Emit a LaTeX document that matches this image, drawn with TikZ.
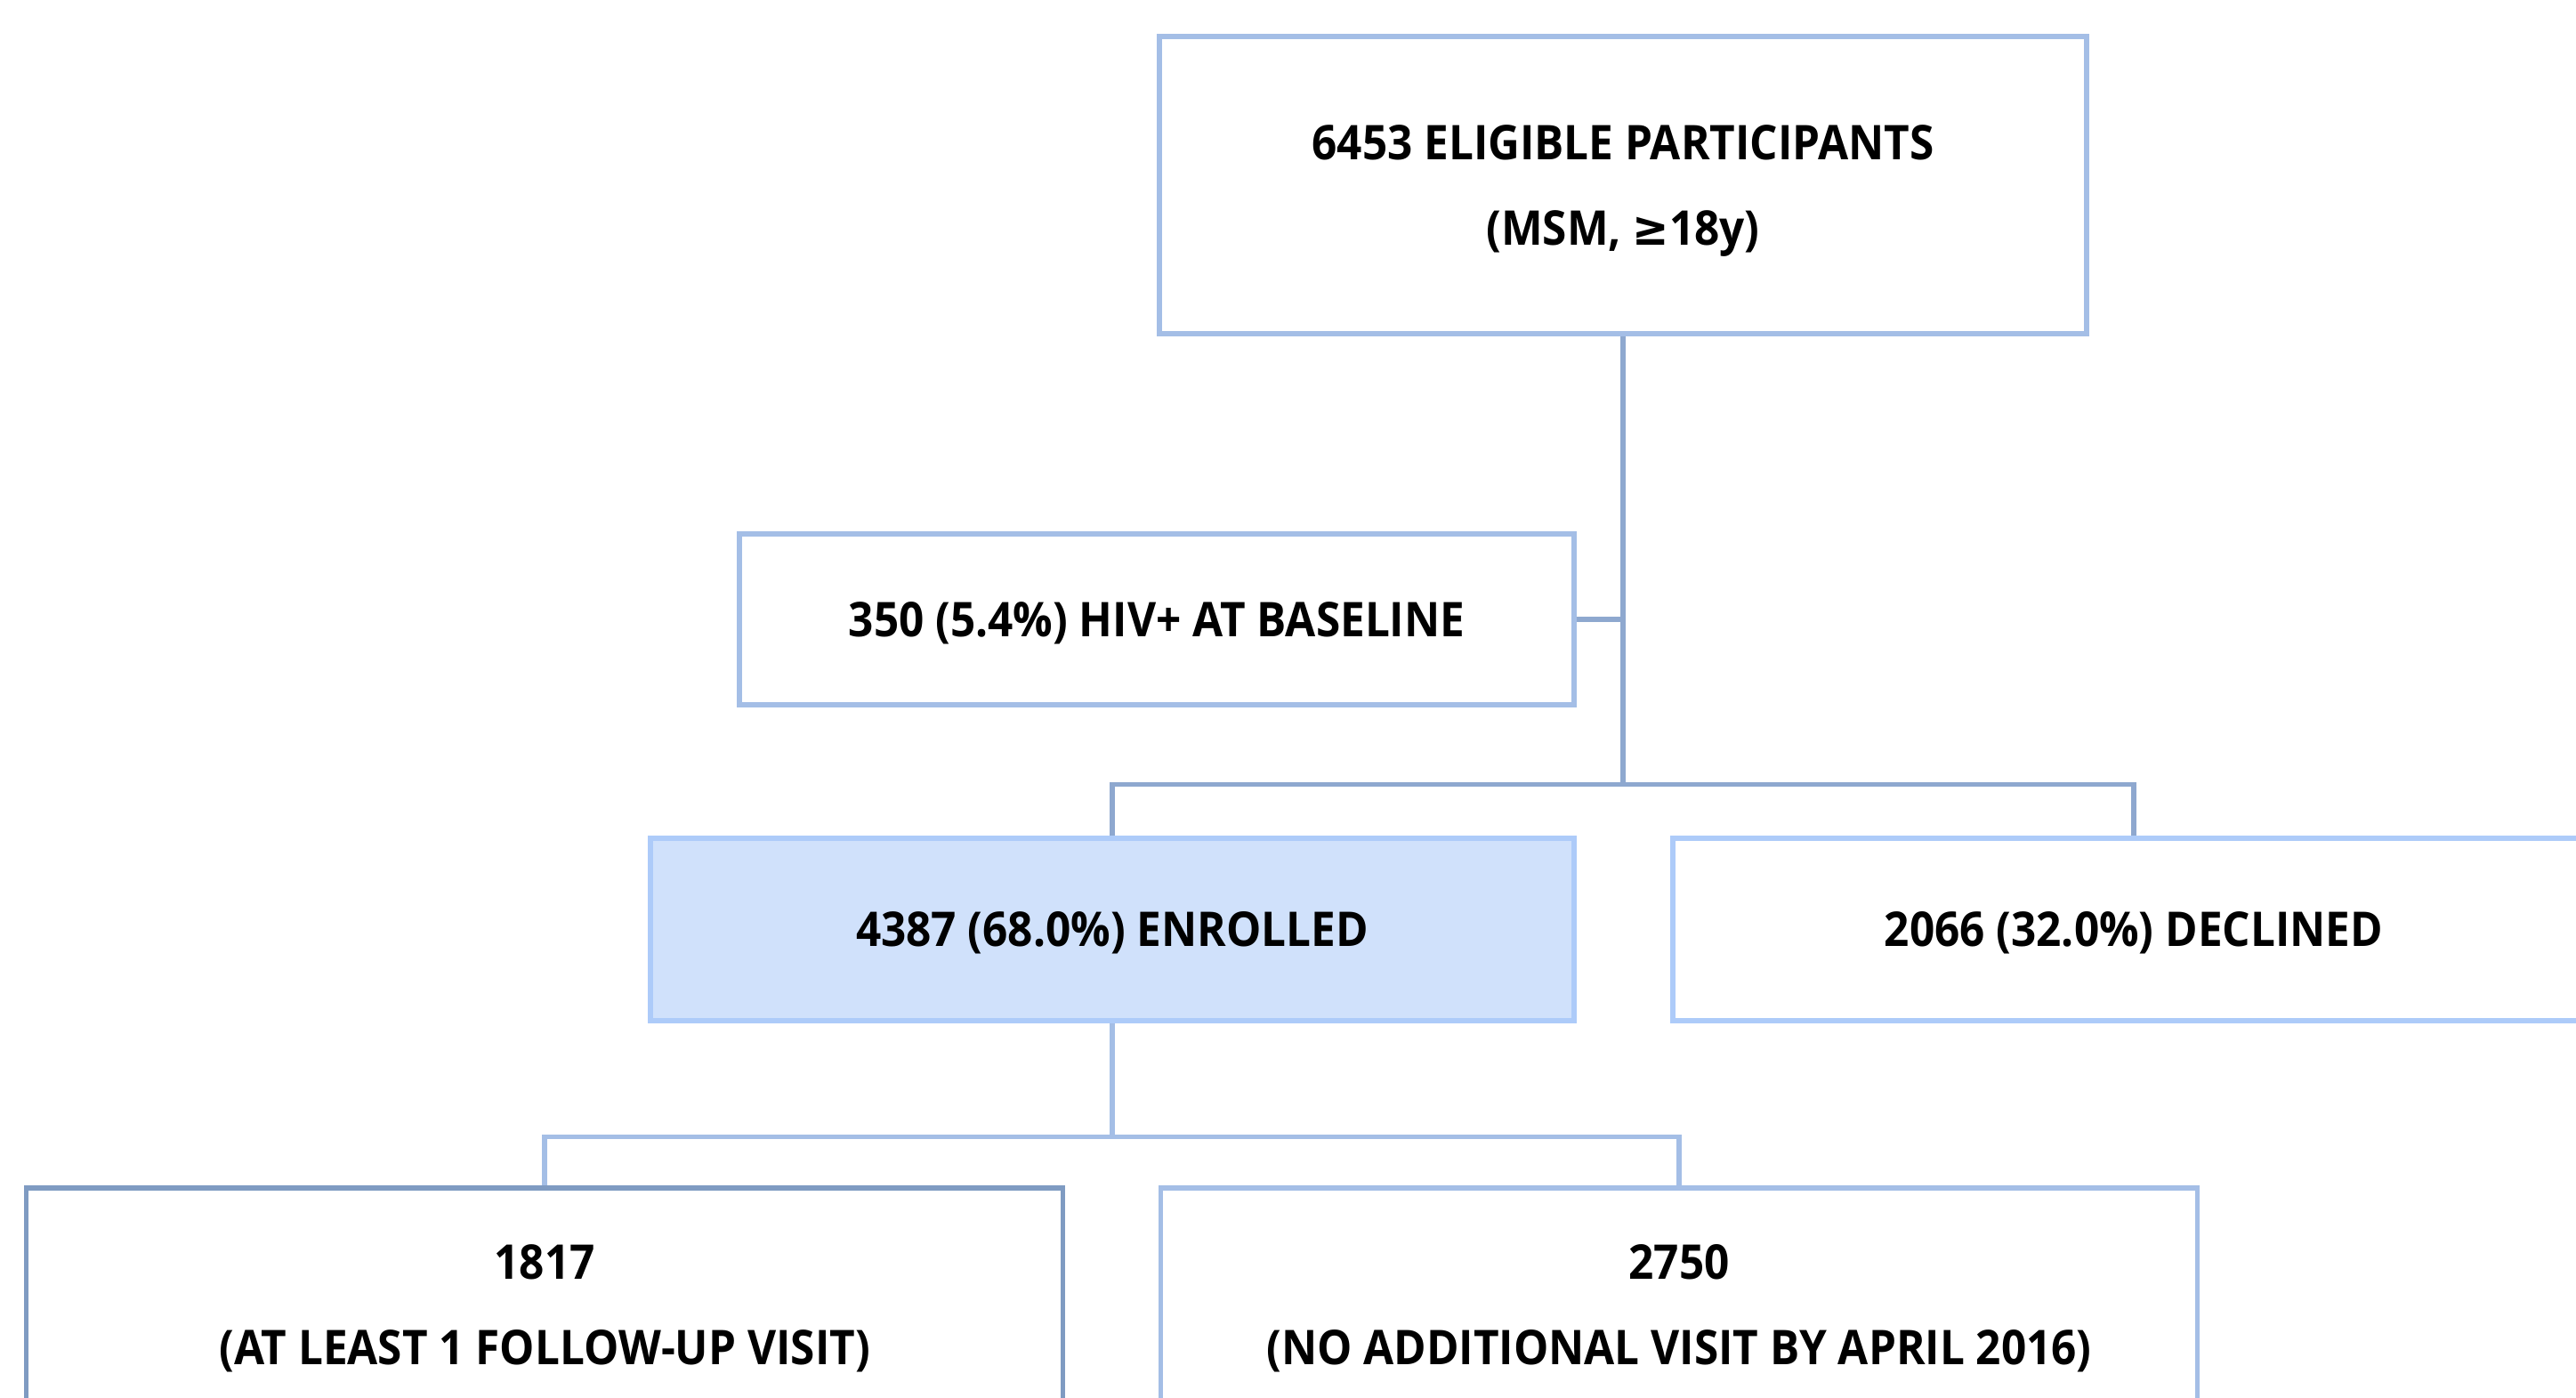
\documentclass[tikz,border=0pt]{standalone}
\usepackage{fontspec}
\setmainfont[FakeStretch=0.92]{Open Sans}
\newfontfamily\symfont[FakeStretch=0.92]{DejaVu Sans}
\usetikzlibrary{positioning,calc}

\definecolor{edgeblue}{HTML}{A4BEE6}
\definecolor{trunkblue}{HTML}{8EA8CF}
\definecolor{enrblue}{HTML}{ADCBF9}
\definecolor{enrfill}{HTML}{D0E1FB}
\definecolor{darkedge}{HTML}{7F9BC2}

\begin{document}
\begin{tikzpicture}[box/.style={
                rectangle, draw=edgeblue, line width=1.5pt, fill=white,
                align=center, inner sep=0pt, text depth=0pt,
                font=\bfseries\fontsize{15.3}{27.3}\selectfont},
            trunk/.style={draw=trunkblue, line width=1.5pt},
            branch/.style={draw=edgeblue, line width=1.5pt}]

            \useasboundingbox (0,0) rectangle (28.95,-15.71);
            \clip (0,0) rectangle (28.95,-15.71);

            \node [box,minimum width=10.42cm,minimum height=3.34cm] (ep) at (18.24,-2.08)
                {6453 ELIGIBLE PARTICIPANTS\\(MSM, {\symfont\bfseries ≥}18y)};
            \node [box,minimum width=9.38cm,minimum height=1.92cm] (hiv) at (13.00,-6.96)
                {350 (5.4\%) HIV+ AT BASELINE};
            \node [box,draw=enrblue,fill=enrfill,minimum width=10.38cm,minimum height=2.05cm] (enr) at (12.50,-10.445)
                {4387 (68.0\%) ENROLLED};
            \node [box,draw=enrblue,minimum width=10.36cm,minimum height=2.05cm] (dec) at (23.98,-10.445)
                {2066 (32.0\%) DECLINED};
            \node [box,draw=darkedge,minimum width=11.65cm,minimum height=2.62cm] (fu) at (6.12,-14.66)
                {1817\\(AT LEAST 1 FOLLOW-UP VISIT)};
            \node [box,minimum width=11.65cm,minimum height=2.62cm] (nv) at (18.87,-14.66)
                {2750\\(NO ADDITIONAL VISIT BY APRIL 2016)};

            % first split
            \coordinate (fork1) at ($(ep.south |- enr.north)+(0,0.58)$);
            \draw [trunk] (ep.south) -- (fork1);
            \draw [trunk] (hiv.east) -- (hiv.east -| ep.south);
            \draw [trunk] (enr.north) |- (fork1) -| (dec.north);

            % second split
            \coordinate (fork2) at ($(enr.south |- fu.north)+(0,0.55)$);
            \draw [branch] (enr.south) -- (fork2);
            \draw [branch] (fu.north) |- (fork2) -| (nv.north);

        \end{tikzpicture}
\end{document}
